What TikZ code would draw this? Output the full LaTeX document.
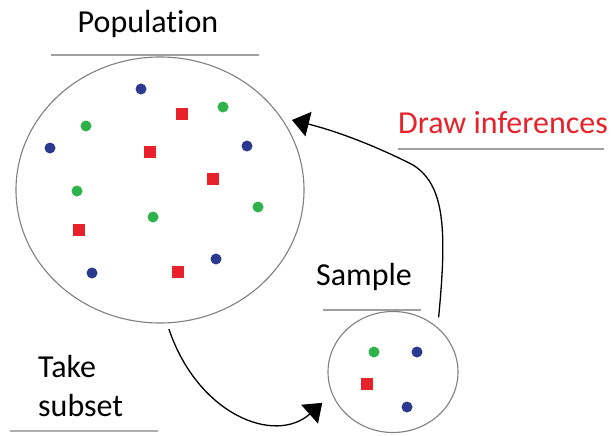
\documentclass[tikz,border=0pt]{standalone}
\usepackage{fontspec}
\setmainfont[Ligatures={NoCommon}]{Carlito}
\usetikzlibrary{shapes.geometric,arrows.meta}
\definecolor{dotblue}{HTML}{2B3990}
\definecolor{dotgreen}{HTML}{2DB34A}
\definecolor{dotred}{HTML}{E8212A}
\definecolor{rulegray}{HTML}{A0A0A0}
\definecolor{ringgray}{HTML}{808080}
\tikzset{
  lbl/.style={font=\fontsize{32}{38}\selectfont, inner sep=0pt, anchor=base},
  rulel/.style={draw=rulegray, line width=1.5pt},
  ring/.style={ellipse, draw=ringgray, line width=1.1pt, inner sep=0pt},
  arr/.style={draw=black, line width=1.3pt, -{Triangle[length=17pt,width=25pt]}},
  bdot/.style={fill=dotblue},
  gdot/.style={fill=dotgreen},
  rsq/.style={fill=dotred},
}
\begin{document}
\begin{tikzpicture}[x=1pt,y=-1pt]
\useasboundingbox (0,0) rectangle (611,436);
% circles
\node[ring, minimum width=288pt, minimum height=266pt] (pop) at (160,190) {};
\node[ring, minimum width=130pt, minimum height=121pt] (sample) at (393,372) {};
% labels
\node[lbl] (poplbl) at (148,33) {Population};
\node[lbl] (samplbl) at (364,285) {Sample};
\node[lbl, text=dotred] (inflbl) at (503,133) {Draw inferences};
\node[lbl, anchor=base west] (take) at (38,377) {Take};
\node[lbl, anchor=base west] (subset) at (38,416) {subset};
% underlines
\draw[rulel] (51,55) -- (259,55);
\draw[rulel] (323,310) -- (421,310);
\draw[rulel] (398,149) -- (604,149);
\draw[rulel, line width=2pt, draw=rulegray!85] (10,431) -- (158,431);
% population dots
\foreach \x/\y in {141/89, 50/148, 247/146, 92/273, 216/259}
  \fill[bdot] (\x,\y) circle (5.5pt);
\foreach \x/\y in {223/107, 86/126, 77/191, 153/217, 258/207}
  \fill[gdot] (\x,\y) circle (5.5pt);
\foreach \x/\y in {182/114, 150/152, 213/179, 79/230, 178/272}
  \fill[rsq] (\x-6,\y-6) rectangle +(12,12);
% sample dots
\fill[gdot] (374,352) circle (5.5pt);
\fill[bdot] (417,352) circle (5.5pt);
\fill[bdot] (407,407) circle (5.5pt);
\fill[rsq] (367-6,384-6) rectangle +(12,12);
% arrows
\coordinate (infend) at (292,120);
\draw[arr, shorten <=10pt] (sample.45) .. controls (447,230) and (445,185) .. (413,165)
  .. controls (380,148) and (340,132) .. (infend);
\draw[arr, shorten <=6pt, shorten >=13pt] (pop.-87) .. controls (198,415) and (275,445) .. (sample.200);
\end{tikzpicture}
\end{document}
